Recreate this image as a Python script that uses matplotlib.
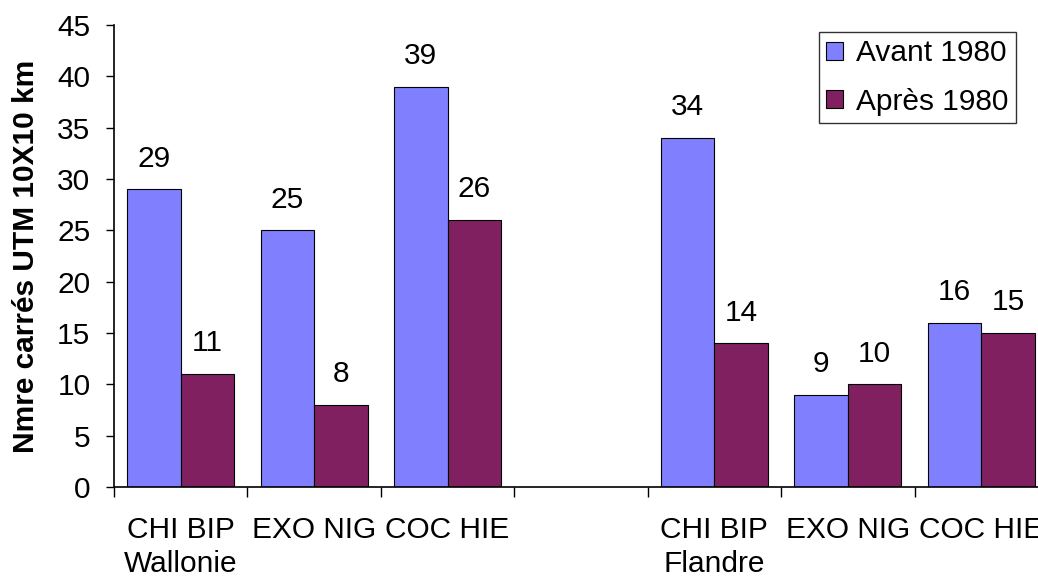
import numpy as np
import matplotlib.pyplot as plt
from matplotlib.patches import Patch

plt.rcParams['font.family'] = ['Liberation Sans', 'DejaVu Sans']

categories = ['CHI BIP\nWallonie', 'EXO NIG', 'COC HIE', '',
              'CHI BIP\nFlandre', 'EXO NIG', 'COC HIE']
avant = [29, 25, 39, np.nan, 34, 9, 16]
apres = [11, 8, 26, np.nan, 14, 10, 15]
series_names = ['Avant 1980', 'Après 1980']
colors = ['#8080FF', '#802060']
FS = 21.5

fig = plt.figure(figsize=(10.38, 5.76), dpi=100)
ax = fig.add_axes([114 / 1038, 89 / 576, 934 / 1038, 462 / 576])

x = np.arange(len(categories))
w = 0.4
for vals, off, col in [(avant, -w / 2, colors[0]), (apres, w / 2, colors[1])]:
    bars = ax.bar(x + off, vals, w, color=col, edgecolor='black', linewidth=0.8)
    for b, v in zip(bars, vals):
        if np.isnan(v):
            continue
        ax.annotate(f'{v:g}', (b.get_x() + b.get_width() / 2, v),
                    xytext=(0, 12), textcoords='offset points',
                    ha='center', va='bottom', fontsize=FS)

ax.set_xlim(-0.5, len(categories) - 0.5)
ax.set_ylim(0, 45)
ax.set_yticks(range(0, 46, 5))
ax.tick_params(axis='y', labelsize=FS, length=6, width=1, pad=11)

# category names centred, ticks between categories
ax.set_xticks(x)
ax.set_xticklabels(categories, fontsize=FS, linespacing=1.25)
ax.tick_params(axis='x', which='major', length=0, pad=21)
ax.set_xticks(np.arange(-0.5, len(categories) - 0.5, 1), minor=True)
ax.tick_params(axis='x', which='minor', length=7, width=1, direction='out')

for s in ['top', 'right']:
    ax.spines[s].set_visible(False)
for s in ['left', 'bottom']:
    ax.spines[s].set_linewidth(1.2)

ax.set_ylabel('Nmre carrés UTM 10X10 km', fontsize=FS, fontweight='bold',
              labelpad=12)

handles = [Patch(facecolor=c, edgecolor='black', linewidth=0.8) for c in colors]
leg = ax.legend(handles, series_names, fontsize=FS, loc='upper left',
                bbox_to_anchor=(705 / 934, 0.985), frameon=True, fancybox=False,
                edgecolor='black', handlelength=0.55, handleheight=0.55,
                handletextpad=0.45, borderpad=0.25, labelspacing=0.68,
                borderaxespad=0)
leg.get_frame().set_linewidth(1)

fig.savefig('out.png', dpi=100)
